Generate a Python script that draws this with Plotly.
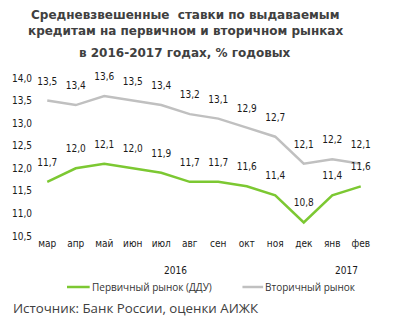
import plotly.graph_objects as go

months = ["мар", "апр", "май", "июн", "июл", "авг", "сен", "окт", "ноя", "дек", "янв", "фев"]
primary = [11.7, 12.0, 12.1, 12.0, 11.9, 11.7, 11.7, 11.6, 11.4, 10.8, 11.4, 11.6]
secondary = [13.5, 13.4, 13.6, 13.5, 13.4, 13.2, 13.1, 12.9, 12.7, 12.1, 12.2, 12.1]
years = ["2016", "2017"]
year_pos = [4.5, 10.5]
y_ticks = [10.5, 11.0, 11.5, 12.0, 12.5, 13.0, 13.5, 14.0]

W, H = 408, 328
L, R, T, B = 28.5, 408 - 375.5, 78, 328 - 236
PW, PH = W - L - R, H - T - B
tick_font = dict(family="DejaVu Sans Condensed, DejaVu Sans", size=10, color="#1a1a1a")

def fmt(v):
    return f"{v:.1f}".replace(".", ",")

x = list(range(len(months)))
fig = go.Figure()
fig.add_trace(go.Scatter(x=x, y=secondary, mode="lines+markers+text", line=dict(color="#c0c0c0", width=2.5),
                         marker=dict(size=20, opacity=0),
                         text=[fmt(v) for v in secondary], textposition="top center",
                         textfont=tick_font, name="Вторичный рынок", cliponaxis=False, showlegend=False))
fig.add_trace(go.Scatter(x=x, y=primary, mode="lines+markers+text", line=dict(color="#7cc832", width=2.5),
                         marker=dict(size=20, opacity=0),
                         text=[fmt(v) for v in primary], textposition="top center",
                         textfont=tick_font, name="Первичный рынок (ДДУ)", cliponaxis=False, showlegend=False))

def px(xp):
    return (xp - L) / PW
def py(yp):
    return (H - B - yp) / PH

annotations = []
title_font = dict(family="DejaVu Sans", size=12, color="#404040")
for txt, yy in [("<b>Средневзвешенные  ставки по выдаваемым</b>", 15),
                ("<b>кредитам на первичном и вторичном рынках</b>", 31),
                ("<b>в 2016-2017 годах, % годовых</b>", 53)]:
    annotations.append(dict(text=txt, x=px(183), y=py(yy), xref="paper", yref="paper",
                            xanchor="center", yanchor="middle", showarrow=False, font=title_font))
for yr, pos in zip(years, year_pos):
    annotations.append(dict(text=yr, x=pos, y=py(270), xref="x", yref="paper",
                            xanchor="center", yanchor="middle", showarrow=False, font=tick_font))
leg_font = dict(family="Open Sans", size=10, color="#333333")
annotations.append(dict(text="Первичный рынок (ДДУ)", x=px(86), y=py(287), xref="paper", yref="paper",
                        xanchor="left", yanchor="middle", showarrow=False, font=leg_font))
annotations.append(dict(text="Вторичный рынок", x=px(262), y=py(287), xref="paper", yref="paper",
                        xanchor="left", yanchor="middle", showarrow=False, font=leg_font))
annotations.append(dict(text="Источник: Банк России, оценки АИЖК", x=px(6), y=py(308), xref="paper", yref="paper",
                        xanchor="left", yanchor="middle", showarrow=False,
                        font=dict(family="Open Sans", size=13.3, color="#404040")))

shapes = [
    dict(type="line", xref="paper", yref="paper", x0=px(63), x1=px(86), y0=py(287), y1=py(287),
         line=dict(color="#7cc832", width=2.5)),
    dict(type="line", xref="paper", yref="paper", x0=px(241), x1=px(262), y0=py(287), y1=py(287),
         line=dict(color="#c0c0c0", width=2.5)),
]

fig.update_layout(
    width=W, height=H, margin=dict(l=L, r=R, t=T, b=B),
    paper_bgcolor="white", plot_bgcolor="white",
    separators=", ",
    annotations=annotations, shapes=shapes, showlegend=False,
    xaxis=dict(tickvals=x, ticktext=months, range=[-0.5, 11.5], showgrid=False, zeroline=False,
               showline=False, tickfont=tick_font, ticks=""),
    yaxis=dict(range=[10.5, 14.0], tickvals=y_ticks, tickformat=".1f", showgrid=False, zeroline=False,
               showline=False, tickfont=tick_font, ticks=""),
)
fig.write_html("out.html")
